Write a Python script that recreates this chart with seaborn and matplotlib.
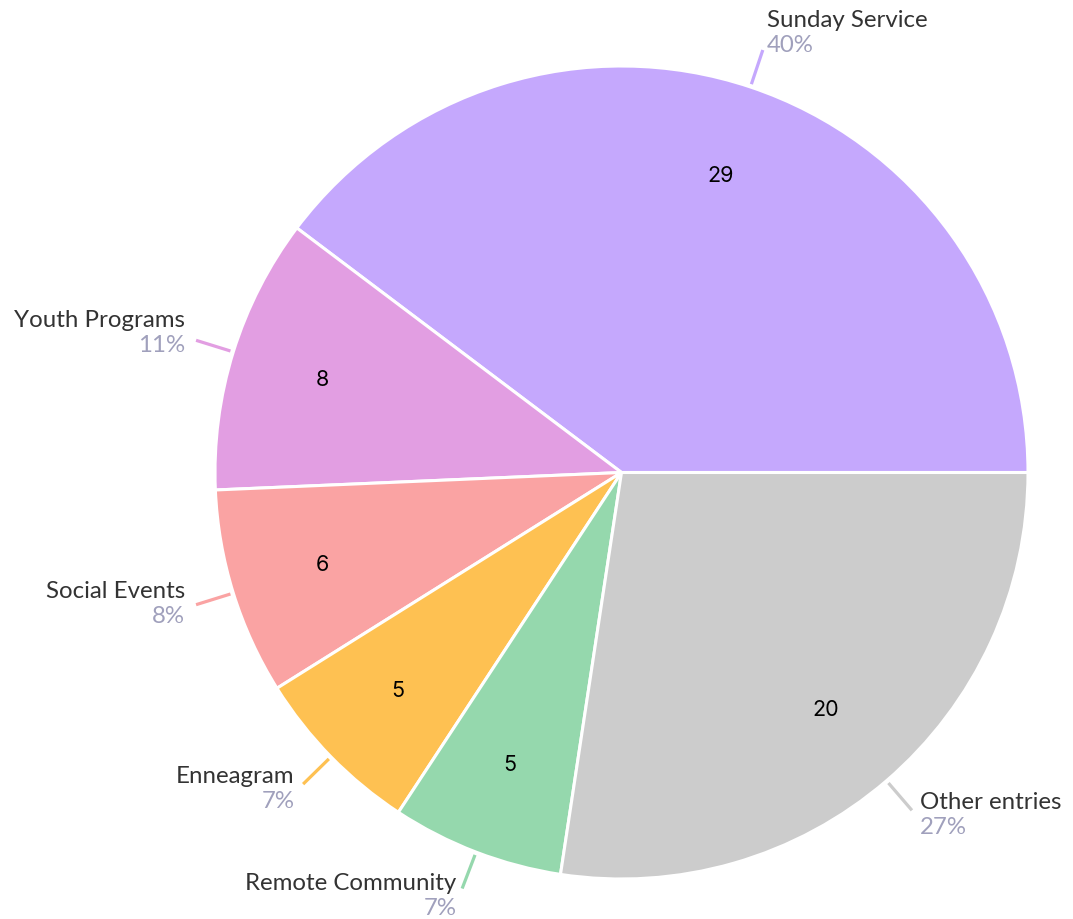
import numpy as np
import matplotlib
matplotlib.use("Agg")
import matplotlib.pyplot as plt
import seaborn as sns

categories = ["Sunday Service", "Youth Programs", "Social Events", "Enneagram",
              "Remote Community", "Other entries"]
values = [29, 8, 6, 5, 5, 20]
colors = ["#C5A8FD", "#E29EE2", "#FAA3A3", "#FEC152", "#95D8AD", "#CCCCCC"]

sns.set_theme(style="white")
plt.rcParams['font.family'] = ['Lato', 'DejaVu Sans']

W, H = 1073, 919
fig = plt.figure(figsize=(W / 100, H / 100), dpi=100)
ax = fig.add_axes([0, 0, 1, 1])

cx, cy, R = 621.5, H - 472.5, 406.5
total = sum(values)

wedges, _, autotexts = ax.pie(
    values, colors=colors, startangle=0, counterclock=True,
    center=(cx, cy), radius=R,
    autopct=lambda p: f"{round(p * total / 100):d}", pctdistance=0.77,
    wedgeprops=dict(edgecolor="white", linewidth=2.2),
    textprops=dict(fontsize=15.5, color="black"),
)
for t in autotexts:
    t.set_fontfamily(['Inter', 'DejaVu Sans'])

for w, name, v, col in zip(wedges, categories, values, colors):
    theta = np.deg2rad((w.theta1 + w.theta2) / 2)
    c, s = np.cos(theta), np.sin(theta)
    r0, r1 = R + 3, R + 39
    ex, ey = cx + r1 * c, cy + r1 * s
    ax.plot([cx + r0 * c, ex], [cy + r0 * s, ey], color=col, lw=2.3,
            solid_capstyle="butt")
    pct = f"{round(100 * v / total)}%"
    if s > 0.9:
        ha, tx = "left", ex + 4
        ny, py = ey + 30, ey + 5
    else:
        gap = 2 + 9.5 * abs(c)
        if c < 0:
            ha, tx = "right", ex - gap
        else:
            ha, tx = "left", ex + gap
        dy = 4 + 12 * s
        ny, py = ey + 12.5 + dy, ey - 12.5 + dy
    ax.text(tx, ny, name, ha=ha, va="center", fontsize=17.3, color="#333333")
    ax.text(tx, py, pct, ha=ha, va="center", fontsize=17.3, color="#A0A0BC")

ax.set_xlim(0, W)
ax.set_ylim(0, H)
ax.set_aspect("equal")
ax.axis("off")
fig.savefig("out.png", dpi=100, facecolor="white")
